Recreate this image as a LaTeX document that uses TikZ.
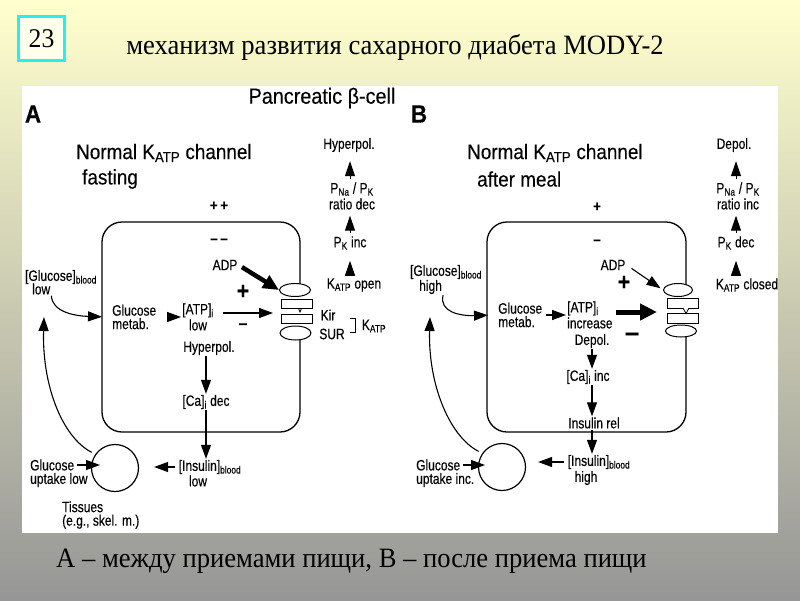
\documentclass[tikz,border=0pt]{standalone}
\usepackage{fontspec}
\setmainfont{Liberation Serif}
\newfontfamily\slide{Liberation Serif}[FakeStretch=0.95]
\newfontfamily\diag{Liberation Sans}[FakeStretch=0.8, FakeBold=0.3]
\newfontfamily\diaghead{Liberation Sans}[FakeStretch=0.9, FakeBold=0.2]
\usetikzlibrary{arrows.meta,positioning,shapes.geometric}
\definecolor{bg-top}{RGB}{255,255,206}
\definecolor{bg-mid}{RGB}{228,226,184}
\definecolor{bg-bot}{RGB}{150,150,150}
\definecolor{tag-color}{RGB}{40,238,238}
\tikzset{
  lbl/.style={font=\diag\fontsize{15}{13.5}\selectfont, inner sep=1pt, align=center},
  lbll/.style={lbl, align=left},
  ratio/.style={lbl, font=\diag\fontsize{15}{16}\selectfont},
  head/.style={font=\diaghead\fontsize{21}{22}\selectfont, inner sep=0pt, anchor=west},
  tag/.style={font=\diaghead\bfseries\fontsize{25}{25}\selectfont, inner sep=0pt},
  sign/.style={font=\diaghead\bfseries\fontsize{#1}{#1}\selectfont, inner sep=0pt},
  cell/.style={line width=1.3pt, rounded corners=20pt},
  chcap/.style={ellipse, draw, fill=white, line width=1pt, minimum width=31pt, minimum height=13pt, inner sep=0pt},
  chbar/.style={rectangle, draw, fill=white, line width=1pt, minimum width=31pt, minimum height=9pt, inner sep=0pt},
  tissue/.style={circle, draw, line width=1.2pt, minimum size=47pt, inner sep=0pt}
}
\tikzset{
  sig/.style={-{Triangle[length=14pt,width=10pt]}, line width=1.1pt},
  tri/.style={-{Triangle[length=15pt,width=10pt]}, line width=1pt, shorten <=2pt, shorten >=#1},
  fat/.style={-{Triangle[length=17pt,width=16pt]}, line width=5pt},
  wedge/.style={-{Triangle[length=16pt,width=14pt]}, line width=4.5pt}
}
\begin{document}
\begin{tikzpicture}[x=1pt, y=-1pt]
  \useasboundingbox (0,0) rectangle (800,600);
  \shade[top color=bg-top, middle color=bg-mid, bottom color=bg-bot] (0,0) rectangle (800,600);
  \fill[white] (22,86) rectangle (778,533);
  \node[draw=tag-color, line width=3pt, fill=white!60!bg-top, minimum width=46pt, minimum height=44pt, font=\slide\fontsize{27}{27}\selectfont] (num) at (41.5,38.5) {23};
  \node[font=\slide\fontsize{28}{28}\selectfont, inner sep=0pt] (title) at (395,47) {механизм развития сахарного диабета MODY-2};
  \node[font=\slide\fontsize{28}{28}\selectfont, inner sep=0pt, anchor=west] (caption) at (56,561) {А – между приемами пищи, В – после приема пищи};
  \node[font=\diaghead\fontsize{22}{22}\selectfont, inner sep=0pt] (cellName) at (322,98) {Pancreatic β-cell};

  \node[tag] (aTag) at (33,114) {A};
  \node[head] (aHead) at (76,153) {Normal K\textsubscript{ATP} channel};
  \node[head] (aCase) at (82,179) {fasting};
  \node[sign=15] (aOut) at (219,206) {+\,+};
  \node[sign=15] (aIn) at (219,241) {–\,–};
  \draw[cell] (300,290) |- (102,222) |- (300,432) -- (300,331);
  \node[chcap] (aTop) at (295,290) {};
  \node[chbar] (aKir1) at (297,304) {};
  \node[chbar] (aKir2) at (297,319) {};
  \node[chcap, minimum height=14pt] (aSur) at (295.5,333) {};
  \draw[line width=0.8pt] (298.5,308.5) -- (300,312) -- (301.5,308.5);
  \node[lbl] (aADP) at (225,265) {ADP};
  \draw[wedge, shorten <=4pt] (aADP.east) -- (aTop.west);
  \node[sign=24] (aPlus) at (243,292) {+};
  \node[lbll, anchor=west] (aMet) at (111,317) {Glucose\\metab.};
  \node[ratio] (aATP) at (198,317) {[ATP]\textsubscript{i}\\low};
  \draw[sig, shorten <=13pt] (aMet) -- (aATP);
  \coordinate (aGap) at (297,313);
  \draw[sig, shorten <=8pt, shorten >=24pt] (aATP.east |- aGap) -- (aGap);
  \node[sign=17] (aMinus) at (243,326) {–};
  \node[lbl] (aKir) at (328,315) {Kir};
  \node[lbl] (aSUR) at (332,334) {SUR};
  \draw[line width=1pt] (350,318) -| (355,332) -- (350,332);
  \node[lbl] (aK) at (374,326) {K\textsubscript{ATP}};
  \node[lbl] (aHyp) at (209,348) {Hyperpol.};
  \node[lbl] (aCa) at (206,402) {[Ca]\textsubscript{i} dec};
  \node[lbl] (aIns) at (210,467) {[Insulin]\textsubscript{blood}};
  \node[lbl] (aInsV) at (198,481) {low};
  \draw[sig] (aHyp.south -| aCa) -- (aCa);
  \draw[sig] (aCa) -- (aCa |- aIns.north);
  \node[tissue] (aTis) at (115,468) {};
  \draw[sig, shorten <=3pt, shorten >=15pt] (aIns.west) -- (aIns.west -| aTis.east);
  \node[lbl, anchor=west] (aUp1) at (29,465) {Glucose};
  \node[lbl, anchor=west] (aUp2) at (29,480) {uptake low};
  \draw[sig, shorten <=2pt, shorten >=15pt] (aUp1.east) -- (aUp1.east -| aTis.center);
  \node[lbll, anchor=west] (aTisName) at (61,515) {Tissues\\(e.g., skel. m.)};
  \node[lbl] (aGlc) at (61,277) {[Glucose]\textsubscript{blood}};
  \node[lbl, anchor=west] (aGlcV) at (31,289) {low};
  \draw[sig, shorten >=9pt] (aGlcV.south east) .. controls (52,312) and (75,316) .. (aMet.west);
  \coordinate (aRet) at (44,317);
  \draw[sig, shorten <=4pt] (aTis.145) .. controls (62,437) and (42,385) .. (aRet);
  \node[lbl] (aR1) at (349,145) {Hyperpol.};
  \node[ratio] (aR2) at (352,196) {P\textsubscript{Na} / P\textsubscript{K}\\ratio dec};
  \node[lbl] (aR3) at (350,243) {P\textsubscript{K} inc};
  \node[lbl] (aR4) at (354,285) {K\textsubscript{ATP} open};
  \draw[tri=10pt] (aR4.north -| aR3) -- (aR3);
  \draw[tri=5pt] (aR3) -- (aR3 |- aR2.south);
  \draw[tri=8pt] (aR2.north -| aR3) -- (aR3 |- aR1.south);

  \node[tag] (bTag) at (419,114) {B};
  \node[head] (bHead) at (467,153) {Normal K\textsubscript{ATP} channel};
  \node[head] (bCase) at (477,179) {after meal};
  \node[sign=15] (bOut) at (597,207) {+};
  \node[sign=15] (bIn) at (597,242) {–};
  \draw[cell] (686,290) |- (487,222) |- (686,432) -- (686,331);
  \node[chcap, minimum width=29pt] (bTop) at (678,290) {};
  \node[chbar, minimum height=10pt] (bKir1) at (682.5,303) {};
  \node[chbar, minimum height=10pt] (bKir2) at (682.5,318) {};
  \node[chcap, minimum height=12pt] (bSur) at (681,331) {};
  \draw[line width=0.8pt, fill=white] (683,308) -- (686,313.5) -- (689,308);
  \node[lbl] (bADP) at (613,265) {ADP};
  \draw[sig, shorten <=6pt, shorten >=3pt] (bADP.east) -- (bTop.west);
  \node[sign=24] (bPlus) at (624,283) {+};
  \node[lbll, anchor=west] (bMet) at (497,315) {Glucose\\metab.};
  \node[ratio, align=left, anchor=west] (bATP) at (566,315) {[ATP]\textsubscript{i}\\increase};
  \draw[sig, shorten <=3pt] (bMet) -- (bATP);
  \coordinate (bGap) at (682,312);
  \draw[fat, shorten <=2pt, shorten >=25pt] (bATP.east |- bGap) -- (bGap);
  \node[lbl] (bDep) at (592,341) {Depol.};
  \node[sign=28] (bMinus) at (632,337) {–};
  \node[lbl] (bCa) at (588,377) {[Ca]\textsubscript{i} inc};
  \node[lbl] (bRel) at (594,423) {Insulin rel};
  \node[lbl] (bIns) at (599,462) {[Insulin]\textsubscript{blood}};
  \node[lbl] (bInsV) at (586,478) {high};
  \draw[sig] (bDep) -- (bDep |- bCa.north);
  \draw[sig] (bCa.south -| bDep) -- (bDep |- bRel.north);
  \draw[sig] (bRel.south -| bDep) -- (bDep |- bIns.north);
  \node[tissue] (bTis) at (502,467) {};
  \draw[sig, shorten <=3pt, shorten >=12pt] (bIns.west) -- (bIns.west -| bTis.east);
  \node[lbl, anchor=west] (bUp1) at (415,465) {Glucose};
  \node[lbl, anchor=west] (bUp2) at (415,480) {uptake inc.};
  \draw[sig, shorten <=2pt, shorten >=17pt] (bUp1.east) -- (bUp1.east -| bTis.center);
  \node[lbl] (bGlc) at (446,272) {[Glucose]\textsubscript{blood}};
  \node[lbl, anchor=west] (bGlcV) at (418,287) {high};
  \draw[sig, shorten >=9pt] (bGlcV.south east) .. controls (439,312) and (460,316) .. (bMet.west);
  \coordinate (bRet) at (430,317);
  \draw[sig, shorten <=4pt] (bTis.145) .. controls (450,437) and (428,385) .. (bRet);
  \node[lbl] (bR1) at (734,145) {Depol.};
  \node[ratio] (bR2) at (738,196) {P\textsubscript{Na} / P\textsubscript{K}\\ratio inc};
  \node[lbl] (bR3) at (736,243) {P\textsubscript{K} dec};
  \node[lbl] (bR4) at (747,285) {K\textsubscript{ATP} closed};
  \draw[tri=10pt] (bR4.north -| bR3) -- (bR3);
  \draw[tri=5pt] (bR3) -- (bR3 |- bR2.south);
  \draw[tri=8pt] (bR2.north -| bR3) -- (bR3 |- bR1.south);
\end{tikzpicture}
\end{document}
